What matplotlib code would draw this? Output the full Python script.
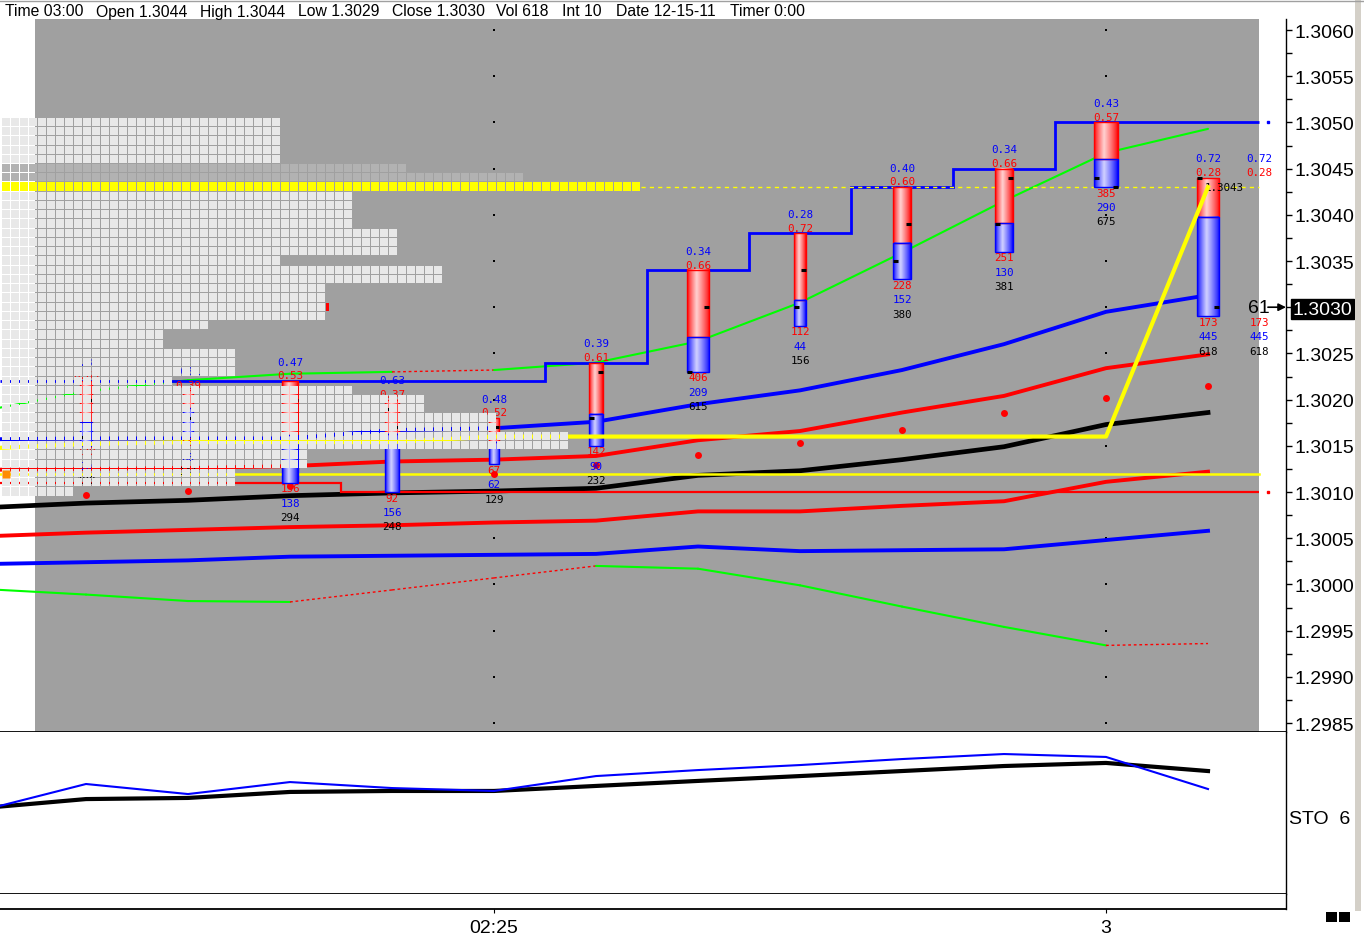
import numpy as np
import matplotlib
matplotlib.use("Agg")
import matplotlib.pyplot as plt
from matplotlib.patches import Rectangle
from matplotlib.collections import PolyCollection
from matplotlib.lines import Line2D
from matplotlib.ticker import FormatStrFormatter, MultipleLocator

plt.rcParams['font.family'] = ['Liberation Sans', 'DejaVu Sans']

# ---- data ----
header_items = [("Time 03:00", 5), ("Open 1.3044", 96), ("High 1.3044", 200), ("Low 1.3029", 298),
                ("Close 1.3030", 392), ("Vol 618", 496), ("Int 10", 562), ("Date 12-15-11", 616),
                ("Timer 0:00", 730)]

bars = np.arange(12)
line_x = np.arange(-1, 12)   # indicator lines start one bar before the window

bar_high = [1.3022, 1.3021, 1.3022, 1.3020, 1.3018, 1.3024, 1.3034, 1.3038, 1.3043, 1.3045, 1.3050, 1.3044]
bar_low = [1.3015, 1.3016, 1.3011, 1.3010, 1.3013, 1.3015, 1.3023, 1.3028, 1.3033, 1.3036, 1.3043, 1.3029]
bar_open = [1.3016, 1.3020, 1.3013, 1.3019, 1.3016, 1.3018, 1.3023, 1.3030, 1.3035, 1.3039, 1.3044, 1.3044]
bar_close = [1.3020, 1.3018, 1.3020, 1.3017, 1.3017, 1.3023, 1.3030, 1.3034, 1.3039, 1.3044, 1.3043, 1.3030]
red_vol = [120, 55, 156, 92, 67, 142, 406, 112, 228, 251, 385, 173]
blue_vol = [70, 86, 138, 156, 62, 90, 209, 44, 152, 130, 290, 445]

green_up = [1.30188, 1.30209, 1.30221, 1.30228, 1.30230, 1.30232, 1.30240, 1.30263, 1.30305, 1.30359, 1.30415, 1.30467, 1.30493]
green_dn = [1.29995, 1.29989, 1.29982, 1.29981, 1.29994, 1.30007, 1.30020, 1.30017, 1.29999, 1.29976, 1.29954, 1.29934, 1.29936]
green_up_dotted = [3]
green_dn_dotted = [2, 3, 4, 10]
blue_up = [1.30157, 1.30158, 1.30158, 1.30158, 1.30167, 1.30169, 1.30176, 1.30195, 1.30210, 1.30232, 1.30260, 1.30295, 1.30313]
red_up = [1.30124, 1.30125, 1.30126, 1.30128, 1.30133, 1.30135, 1.30139, 1.30156, 1.30166, 1.30186, 1.30204, 1.30234, 1.30249]
black_mid = [1.30083, 1.30088, 1.30091, 1.30096, 1.30099, 1.30101, 1.30104, 1.30118, 1.30123, 1.30135, 1.30149, 1.30173, 1.30186]
red_dn = [1.30052, 1.30056, 1.30059, 1.30062, 1.30064, 1.30067, 1.30069, 1.30079, 1.30079, 1.30085, 1.30090, 1.30111, 1.30122]
blue_dn = [1.30022, 1.30024, 1.30026, 1.30030, 1.30031, 1.30032, 1.30033, 1.30041, 1.30036, 1.30037, 1.30038, 1.30048, 1.30058]
dev_poc = [1.30147, 1.30152, 1.30154, 1.30154, 1.30154, 1.30160, 1.30160, 1.30160, 1.30160, 1.30160, 1.30160, 1.30160, 1.30430]
sar = [1.30097, 1.30101, 1.30107, 1.30112, 1.30120, 1.30129, 1.30140, 1.30153, 1.30167, 1.30186, 1.30202, 1.30215]
session_high = [1.3022, 1.3022, 1.3022, 1.3022, 1.3022, 1.3024, 1.3034, 1.3038, 1.3043, 1.3045, 1.3050, 1.3050]
session_low = [1.3011, 1.3011, 1.3011, 1.3010, 1.3010, 1.3010, 1.3010, 1.3010, 1.3010, 1.3010, 1.3010, 1.3010]
ib_level = 1.3012

profile_prices = [1.3050, 1.3049, 1.3048, 1.3047, 1.3046, 1.3045, 1.3044, 1.3043, 1.3042, 1.3041,
                  1.3040, 1.3039, 1.3038, 1.3037, 1.3036, 1.3035, 1.3034, 1.3033, 1.3032, 1.3031,
                  1.3030, 1.3029, 1.3028, 1.3027, 1.3026, 1.3025, 1.3024, 1.3023, 1.3022, 1.3021,
                  1.3020, 1.3019, 1.3018, 1.3017, 1.3016, 1.3015, 1.3014, 1.3013, 1.3012, 1.3011, 1.3010]
profile_counts = [31, 31, 31, 31, 31, 45, 58, 71, 39, 39, 39, 39, 44, 44, 44, 31, 49, 49, 36, 36,
                  36, 36, 23, 18, 18, 26, 26, 26, 19, 39, 47, 47, 55, 55, 63, 63, 34, 34, 26, 26, 8]
shaded_prices = [1.3045, 1.3044]
ticks_left = 61

sto_fast = [51.9, 67.9, 61.7, 69.1, 65.4, 63.6, 72.8, 76.5, 79.6, 83.3, 86.4, 84.6, 64.8]
sto_slow = [53.1, 58.6, 59.3, 63.0, 63.6, 63.6, 66.7, 69.8, 72.8, 75.9, 79.0, 80.9, 75.9]

time_ticks = [4, 10]
time_labels = ["02:25", "3"]

# ---- layout (pixels) ----
W, H = 1364, 945
BAR_PX = 102.0            # pixels per bar
PX = 1.0 / BAR_PX         # one pixel in bar units
PY = 0.0005 / 46.2        # one pixel in price units
XMIN, XMAX = -86 / BAR_PX, 1200 / BAR_PX
YTOP = 1.3060 + 11 * PY
YBOT = 1.3060 - 702 * PY
GRAY = '#a0a0a0'
LABEL_FONT = dict(fontsize=7.8, family='DejaVu Sans Mono')


def fig_rect(x0, y0, x1, y1):
    return [x0 / W, 1 - y1 / H, (x1 - x0) / W, (y1 - y0) / H]


fig = plt.figure(figsize=(W / 100, H / 100), dpi=100)
ax = fig.add_axes(fig_rect(0, 20, 1286, 733))
ax_sto = fig.add_axes(fig_rect(0, 733, 1286, 895))
ax_t = fig.add_axes(fig_rect(0, 895, 1286, 910))

ax.add_patch(Rectangle((-0.5, YBOT), 12.0, YTOP - YBOT, fc=GRAY, ec='none', zorder=0))

# grid dots on the time lines
yticks = np.round(np.arange(1.2985, 1.30601, 0.0005), 4)
for b in time_ticks:
    ax.scatter([b] * len(yticks), yticks, s=1.2, c='black', marker='s', lw=0, zorder=1)


def band(vals, color, lw, dotted=()):
    for i in range(len(line_x) - 1):
        if line_x[i] in dotted:
            ax.plot(line_x[i:i + 2], vals[i:i + 2], color='red', lw=1, ls=(0, (2, 2)), zorder=2)
        else:
            ax.plot(line_x[i:i + 2], vals[i:i + 2], color=color, lw=lw, zorder=2,
                    solid_capstyle='round')


band(green_up, '#00ff00', 1.5, green_up_dotted)
band(green_dn, '#00ff00', 1.5, green_dn_dotted)
ax.plot(line_x, blue_up, color='blue', lw=2.8, zorder=2)
ax.plot(line_x, red_up, color='red', lw=2.8, zorder=2)
ax.plot(line_x, black_mid, color='black', lw=3.4, zorder=2)
ax.plot(line_x, red_dn, color='red', lw=2.8, zorder=2)
ax.plot(line_x, blue_dn, color='blue', lw=2.8, zorder=2)

edges = np.r_[XMIN, bars[:-1] + 0.5, 11.5]
ax.stairs(session_high, edges, baseline=None, color='blue', lw=2, zorder=2)
ax.stairs(session_low, edges, baseline=None, color='red', lw=1.6, zorder=2)
ax.plot(11.5 + 9 * PX, session_high[-1], 's', color='blue', ms=1.5, zorder=2)
ax.plot(11.5 + 9 * PX, session_low[-1], 's', color='red', ms=1.5, zorder=2)
ax.plot([XMIN, 11.5], [ib_level, ib_level], color='#ffff00', lw=1.8, zorder=2)
ax.plot(XMIN + 6 * PX, ib_level, 's', color='#ff8c00', ms=6, mec='none', zorder=8)
ax.plot(bars, sar, 'o', color='red', ms=5, mec='none', zorder=3)

# volume split bars
t = np.linspace(0, 1, 60)
peak = 0.42
light = 0.82 * np.clip(1 - np.abs(t - peak) / np.where(t < peak, peak, 1 - peak), 0, 1) ** 0.8
red_img = np.stack([np.ones_like(t), light, light], -1)[None, :, :]
blue_img = np.stack([light, light, np.ones_like(t)], -1)[None, :, :]


def labels(xc, top, bottom, r, bl, z=6):
    tot = r + bl
    kw = dict(textcoords='offset points', ha='center', va='center', zorder=z,
              annotation_clip=False, **LABEL_FONT)
    ax.annotate(f"{bl / tot:.2f}", (xc, top), xytext=(0, 14), color='blue', **kw)
    ax.annotate(f"{r / tot:.2f}", (xc, top), xytext=(0, 4.1), color='red', **kw)
    ax.annotate(f"{r}", (xc, bottom), xytext=(0, -4), color='red', **kw)
    ax.annotate(f"{bl}", (xc, bottom), xytext=(0, -14.4), color='blue', **kw)
    ax.annotate(f"{tot}", (xc, bottom), xytext=(0, -24.7), color='black', **kw)


for i in bars:
    hi, lo, r, bl = bar_high[i], bar_low[i], red_vol[i], blue_vol[i]
    tot = r + bl
    w = 0.9 * np.sqrt(tot) * PX
    x0, x1 = i - w / 2, i + w / 2
    split = lo + (hi - lo) * bl / tot
    ax.imshow(red_img, extent=[x0, x1, split, hi], aspect='auto', interpolation='bilinear', zorder=4)
    ax.imshow(blue_img, extent=[x0, x1, lo, split], aspect='auto', interpolation='bilinear', zorder=4)
    ax.add_patch(Rectangle((x0, split), w, hi - split, fc='none', ec='red', lw=1, zorder=4))
    ax.add_patch(Rectangle((x0, lo), w, split - lo, fc='none', ec='blue', lw=1, zorder=4))
    ax.plot([x0, x0 + 5 * PX], [bar_open[i]] * 2, color='black', lw=2.2, solid_capstyle='butt', zorder=4.2)
    ax.plot([x1 - 5 * PX, x1], [bar_close[i]] * 2, color='black', lw=2.2, solid_capstyle='butt', zorder=4.2)
    labels(i, hi, lo, r, bl)

# summary at the right edge
labels(11.5, bar_high[-1], bar_low[-1], red_vol[-1], blue_vol[-1])
ax.text(11.5, bar_close[-1], str(ticks_left), ha='center', va='center', fontsize=14, zorder=6)

# volume profile (drawn on top, gaps show what is underneath)
poc = profile_prices[int(np.argmax(profile_counts))]
verts, colors = [], []
cx0 = (1.7 - 86) * PX
for p, n in zip(profile_prices, profile_counts):
    if p == poc:
        col = '#ffff00'
    elif p in shaded_prices:
        col = '#b2b2b2'
    else:
        col = '#e8e8e8'
    y0, y1 = p - 0.00005 + PY, p + 0.00005
    for j in range(n):
        a = cx0 + 9 * j * PX
        b = a + 8 * PX
        verts.append([(a, y0), (b, y0), (b, y1), (a, y1)])
        colors.append(col)
    if p == bar_close[-1]:
        a = cx0 + 9 * n * PX
        verts.append([(a, y0), (a + 3 * PX, y0), (a + 3 * PX, y1), (a, y1)])
        colors.append('red')
    if p == poc:
        end = cx0 + 9 * n * PX
        ax.plot([end, 11.5], [p, p], color='#ffff00', lw=1, ls=(0, (3, 3)), zorder=2)
ax.add_collection(PolyCollection(verts, facecolors=colors, edgecolors='none', antialiased=False, zorder=7))

ax.plot(line_x, dev_poc, color='#ffff00', lw=3, zorder=5)
ax.text(bars[-1] - 0.03, poc, f"{poc:.4f}", ha='left', va='center', zorder=4.5, **LABEL_FONT)

# axes cosmetics
ax.set_xlim(XMIN, XMAX)
ax.set_ylim(YBOT, YTOP)
ax.set_facecolor('white')
ax.set_xticks([])
ax.yaxis.tick_right()
ax.set_yticks(yticks)
ax.yaxis.set_major_formatter(FormatStrFormatter('%.4f'))
ax.yaxis.set_minor_locator(MultipleLocator(0.00025))
ax.tick_params(axis='y', which='both', direction='out', length=4, width=1, pad=2, labelsize=14)
for a in (ax, ax_sto, ax_t):
    a.spines['left'].set_visible(False)
    a.spines['top'].set_visible(False)
    a.spines['right'].set_linewidth(1)
    a.spines['bottom'].set_linewidth(1.3)
    a.set_xlim(XMIN, XMAX)

ax.annotate(f"{bar_close[-1]:.4f}", xy=(1, bar_close[-1]), xycoords=('axes fraction', 'data'),
            xytext=(5, 0), textcoords='offset points', ha='left', va='center_baseline',
            color='white', fontsize=14, annotation_clip=False, zorder=10,
            bbox=dict(boxstyle='square,pad=0.08', fc='black', ec='black'))
ax.annotate('', xy=(1, bar_close[-1]), xycoords=('axes fraction', 'data'), xytext=(-13, 0),
            textcoords='offset points', annotation_clip=False,
            arrowprops=dict(arrowstyle='-|>', color='black', lw=1.2, mutation_scale=11, shrinkA=0, shrinkB=0))

# stochastic panel
ax_sto.plot(line_x, sto_slow, color='black', lw=3, zorder=2)
ax_sto.plot(line_x, sto_fast, color='blue', lw=1.5, zorder=3)
ax_sto.set_ylim(0, 100)
ax_sto.set_xticks([])
ax_sto.set_yticks([])

ax_t.set_yticks([])
ax_t.set_xticks(time_ticks, time_labels)
ax_t.tick_params(axis='x', length=3, pad=4, labelsize=14)

# header and frame
for s, x in header_items:
    fig.text(x / W, 1 - 12 / H, s, fontsize=11.3, ha='left', va='center')
fig.text(1289 / W, 1 - 820 / H, "STO  6", fontsize=14, ha='left', va='center')
fig.add_artist(Line2D([0, 1], [1 - 1.5 / H] * 2, color='#a0a0a0', lw=1))
fig.add_artist(Rectangle((1355 / W, 1 - 912 / H), 6 / W, 912 / H, transform=fig.transFigure,
                         fc='#d4d0c8', ec='none'))
for x in (1326, 1339):
    fig.add_artist(Rectangle((x / W, 1 - 923 / H), 11 / W, 10 / H, transform=fig.transFigure,
                             fc='black', ec='none'))

fig.savefig('out.png', dpi=100)
